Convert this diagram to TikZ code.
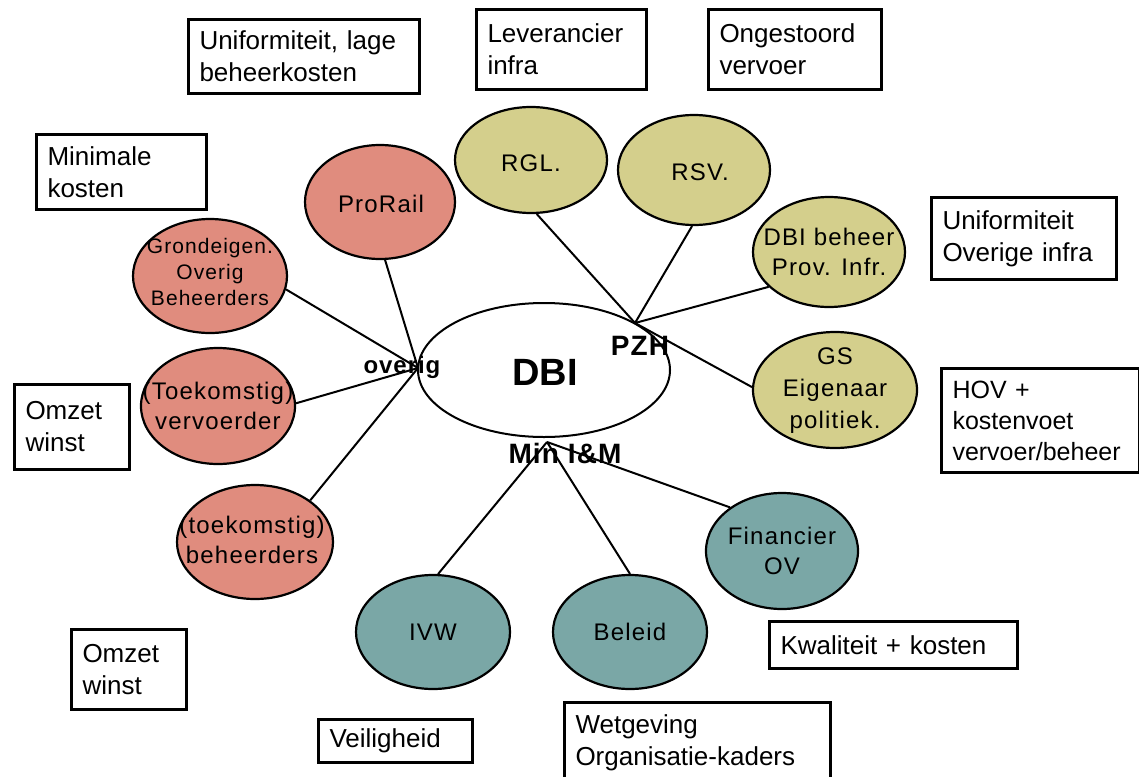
\documentclass[tikz,border=0pt]{standalone}
\usepackage{fontspec}
\setmainfont{Liberation Sans}
\newfontfamily\ellfont[LetterSpace=5]{Liberation Sans}
\newfontfamily\hubfont[LetterSpace=4]{Liberation Sans}
\usetikzlibrary{shapes.geometric}
\definecolor{pinkfill}{RGB}{224,140,126}
\definecolor{yellowfill}{RGB}{212,207,140}
\definecolor{tealfill}{RGB}{122,167,166}
\begin{document}
\begin{tikzpicture}[x=1pt,y=-1pt,
  ell/.style={ellipse, draw, line width=2.2pt, inner sep=0pt},
  pinkell/.style={ell, fill=pinkfill},
  yelell/.style={ell, fill=yellowfill},
  tealell/.style={ell, fill=tealfill},
  elltext/.style={inner sep=0pt, align=center, font=\ellfont\fontsize{24}{30}\selectfont},
  box/.style={draw, line width=3pt, align=left, anchor=north west,
    inner xsep=11pt, inner ysep=0pt, font=\fontsize{26}{32}\selectfont},
  conn/.style={line width=2pt},
  hublabel/.style={font=\hubfont\bfseries\fontsize{28}{30}\selectfont, inner sep=0pt}
]
\useasboundingbox (0,0) rectangle (1139,776);
\fill[white] (0,0) rectangle (1139,776);

% central ellipse
\node[ellipse, draw, line width=2pt, fill=white, minimum width=252pt, minimum height=134pt, inner sep=0pt] (dbi) at (544,370) {};

% pink
\node[pinkell, minimum width=150pt, minimum height=114pt] (prorail) at (380,202) {};
\node[pinkell, minimum width=154pt, minimum height=114pt] (grond) at (210,276) {};
\node[pinkell, minimum width=154pt, minimum height=116pt] (vervoerder) at (218,406) {};
\node[pinkell, minimum width=156pt, minimum height=114pt] (beheerders) at (255,542) {};

% yellow
\node[yelell, minimum width=152pt, minimum height=106pt] (rgl) at (531,160) {};
\node[yelell, minimum width=152pt, minimum height=110pt] (rsv) at (694,170) {};
\node[yelell, minimum width=152pt, minimum height=110pt] (dbib) at (829,252) {};
\node[yelell, minimum width=164pt, minimum height=116pt] (gs) at (835,390) {};

% teal
\node[tealell, minimum width=152pt, minimum height=116pt] (fin) at (782,551) {};
\node[tealell, minimum width=154pt, minimum height=114pt] (ivw) at (433,632) {};
\node[tealell, minimum width=154pt, minimum height=114pt] (beleid) at (630,632) {};

% ellipse texts
\node[elltext] (prorail-t) at (381,204) {ProRail};
\node[elltext, font=\ellfont\fontsize{21}{26}\selectfont] (grond-t) at (210,272) {Grondeigen.\\Overig\\Beheerders};
\node[elltext] (vervoerder-t) at (218,406) {(Toekomstig)\\vervoerder};
\node[elltext] (beheerders-t) at (252,540) {(toekomstig)\\beheerders};
\node[elltext] (rgl-t) at (531,163) {RGL.};
\node[elltext] (rsv-t) at (700,172) {RSV.};
\node[elltext] (dbib-t) at (829,252) {DBI beheer\\Prov. Infr.};
\node[elltext, font=\ellfont\fontsize{24}{32}\selectfont] (gs-t) at (835,391) {GS\\Eigenaar\\politiek.};
\node[elltext] (fin-t) at (782,551) {Financier\\OV};
\node[elltext] (ivw-t) at (433,632) {IVW};
\node[elltext] (beleid-t) at (630,632) {Beleid};

% hubs
\coordinate (hubO) at (418,368);
\coordinate (hubP) at (635,323);
\coordinate (hubM) at (547,442);

\draw[conn] (hubO) -- (prorail.-85);
\draw[conn] (hubO) -- (grond.-10);
\draw[conn] (hubO) -- (vervoerder.2);
\draw[conn] (hubO) -- (beheerders.37);
\draw[conn] (hubP) -- (rgl.-84);
\draw[conn] (hubP) -- (rsv.-92);
\draw[conn] (hubP) -- (dbib.-150);
\draw[conn] (hubP) -- (gs.178);
\draw[conn] (hubM) -- (ivw.85);
\draw[conn] (hubM) -- (beleid.90);
\draw[conn] (hubM) -- (fin.140);

% labels
\node[font=\bfseries\fontsize{38}{40}\selectfont, inner sep=0pt] (dbitext) at (545,372) {DBI};
\node[hublabel, font=\hubfont\bfseries\fontsize{24}{26}\selectfont] (overig) at (402,367) {overig};
\node[hublabel] (pzh) at (640,346) {PZH};
\node[hublabel] (minim) at (565,453) {Min I\&M};

% boxes
\node[box, text width=209pt, minimum height=74pt] (b1) at (187,18) {Uniformiteit, lage\\beheerkosten};
\node[box, text width=148pt, minimum height=80pt] (b2) at (475,8) {Leverancier\\infra};
\node[box, text width=151pt, minimum height=80pt] (b3) at (707,8) {Ongestoord\\vervoer};
\node[box, text width=148pt, minimum height=75pt] (b4) at (35,133) {Minimale\\kosten};
\node[box, text width=163pt, minimum height=82pt] (b5) at (930,196) {Uniformiteit\\Overige infra};
\node[box, text width=93pt, minimum height=85pt] (b6) at (13,383) {Omzet\\winst};
\node[box, text width=176pt, minimum height=104pt, font=\fontsize{25}{31}\selectfont] (b7) at (940,367) {HOV +\\kostenvoet\\vervoer/beheer};
\node[box, text width=226pt, minimum height=47pt] (b8) at (768,620) {Kwaliteit + kosten};
\node[box, text width=93pt, minimum height=80pt] (b9) at (70,628) {Omzet\\winst};
\node[box, text width=132pt, minimum height=43pt] (b10) at (317,718) {Veiligheid};
\node[box, text width=244pt, minimum height=80pt] (b11) at (563,701) {Wetgeving\\Organisatie-kaders};
\end{tikzpicture}
\end{document}
